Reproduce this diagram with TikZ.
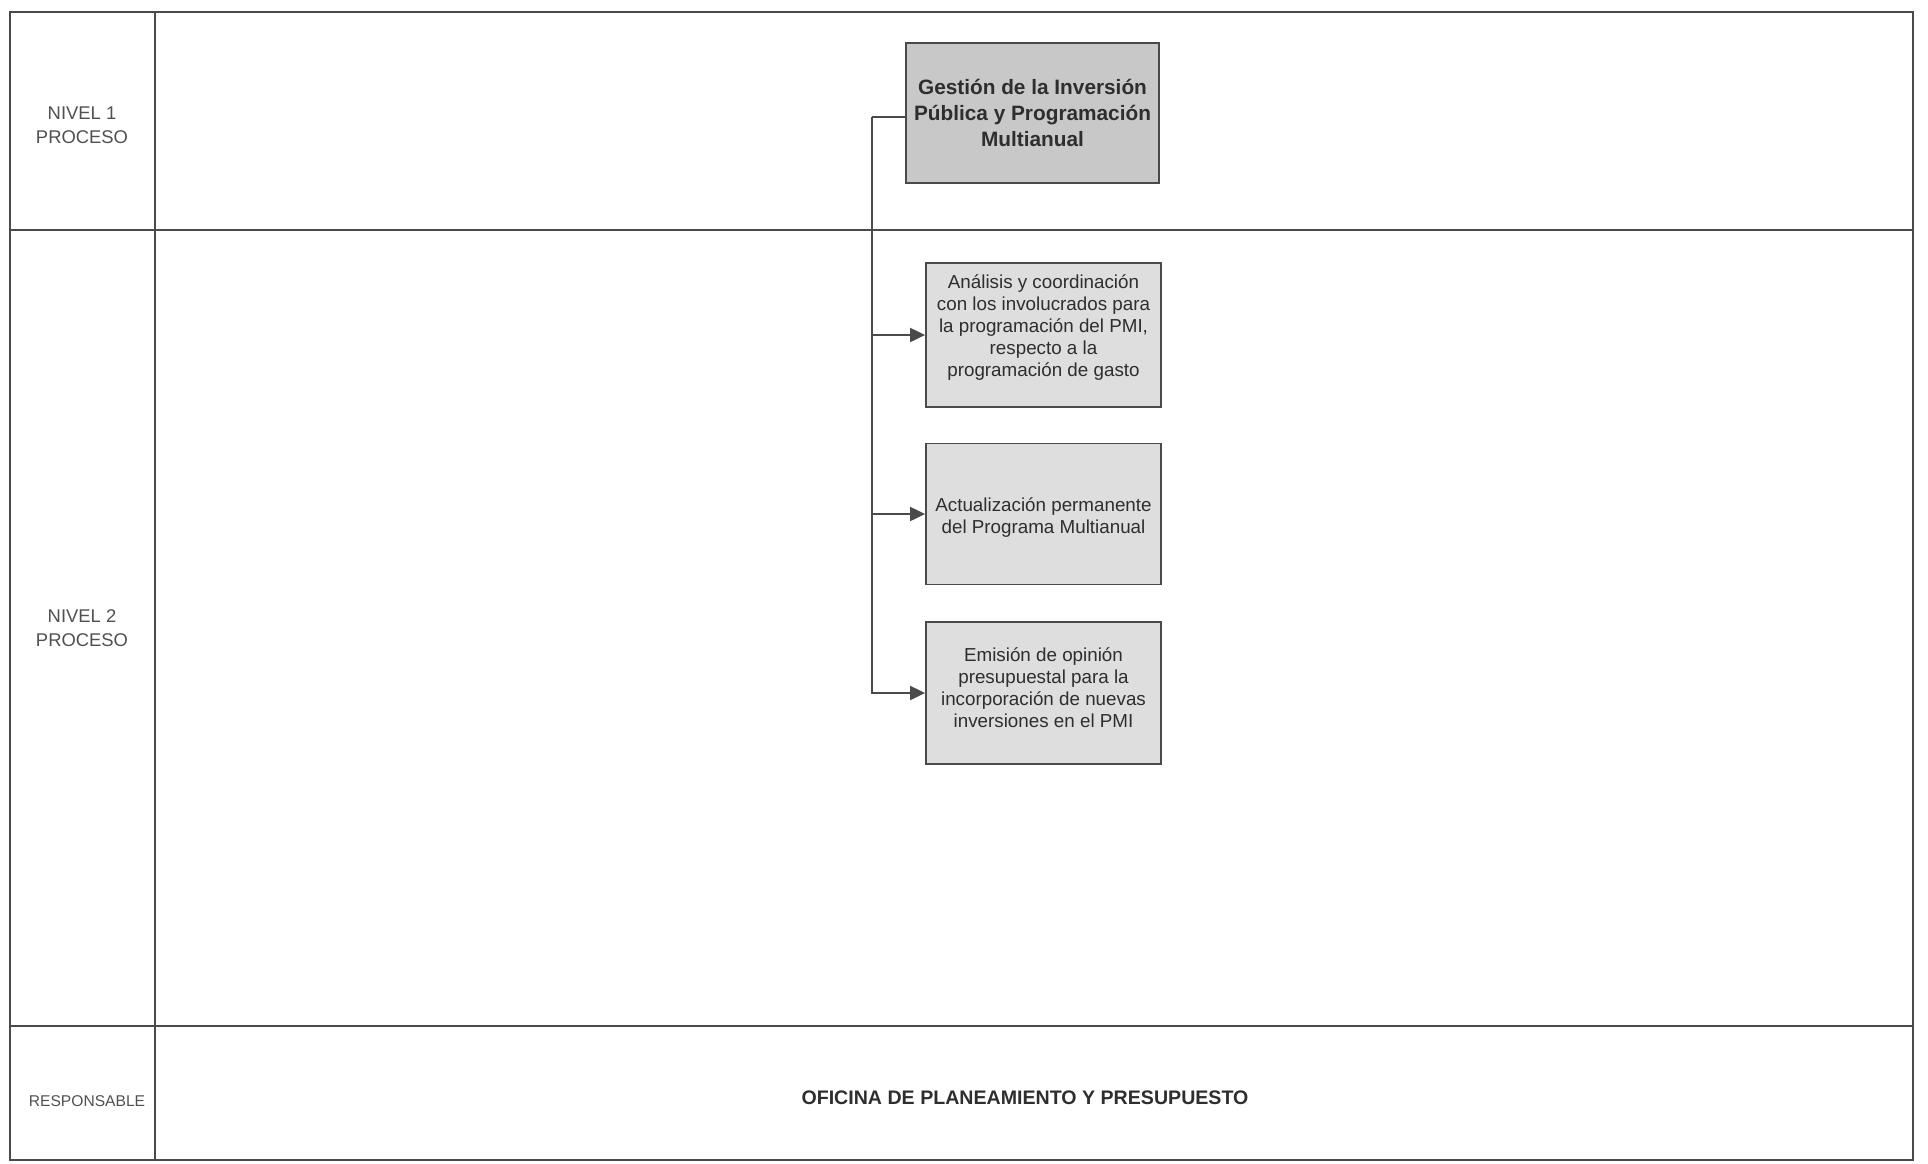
\documentclass[tikz,border=0pt]{standalone}
\usepackage{fontspec}
\setmainfont{Liberation Sans}
\usetikzlibrary{arrows.meta}
\definecolor{frame}{HTML}{4A4A4A}
\definecolor{mainfill}{HTML}{C8C8C8}
\definecolor{subfill}{HTML}{DEDEDE}
\definecolor{txt}{HTML}{2E2E2E}
\definecolor{lbltxt}{HTML}{505050}
\begin{document}
\begin{tikzpicture}[x=0.5pt,y=-0.5pt,
 frameline/.style={draw=frame,line width=1pt},
 mainbox/.style={draw=frame,line width=1pt,fill=mainfill,minimum width=126.5pt,minimum height=70pt,align=center,text=txt,font=\fontsize{10.4}{12.8}\selectfont\bfseries,inner sep=0pt},
 subbox/.style={draw=frame,line width=0.9pt,fill=subfill,minimum width=117.5pt,minimum height=71pt,inner sep=0pt},
 subtext/.style={align=center,text=txt,font=\fontsize{9.4}{11}\selectfont,inner sep=0pt},
 lbl/.style={align=center,text=lbltxt,font=\fontsize{9.2}{12}\selectfont},
 conn/.style={draw=frame,line width=1pt},
 arr/.style={conn,-{Triangle[length=7.5pt,width=7pt]}}
]
\useasboundingbox (0,0) rectangle (1928,1163);
\draw[frameline] (10,12) rectangle (1913,1160);
\draw[frameline] (155,12) -- (155,1160);
\draw[frameline] (10,230) -- (1913,230);
\draw[frameline] (10,1026) -- (1913,1026);

\node[lbl] (n1) at (82,125) {NIVEL 1\\PROCESO};
\node[lbl] (n2) at (82,628) {NIVEL 2\\PROCESO};
\node[lbl,font=\fontsize{7.8}{9}\selectfont] (rs) at (87,1101) {RESPONSABLE};
\node[font=\fontsize{9.8}{12}\selectfont\bfseries,text=txt] (of) at (1025,1098) {OFICINA DE PLANEAMIENTO Y PRESUPUESTO};

\node[mainbox] (m) at (1032.5,113) {Gestión de la Inversión\\Pública y Programación\\Multianual};

\node[subbox,minimum height=72pt] (b1) at (1043.5,335) {};
\node[subtext] (b1t) at (1043.5,328) {Análisis y coordinación\\con los involucrados para\\la programación del PMI,\\respecto a la\\programación de gasto};
\node[subbox,minimum height=70.5pt] (b2) at (1043.5,514) {};
\node[subtext] (b2t) at (1043.5,518) {Actualización permanente\\del Programa Multianual};
\node[subbox] (b3) at (1043.5,693) {};
\node[subtext] (b3t) at (1043.5,688) {Emisión de opinión\\presupuestal para la\\incorporación de nuevas\\inversiones en el PMI};

\coordinate (tr) at (872,117);
\draw[conn] (m.west |- tr) -- (tr);
\draw[arr] (tr) |- (b3.west);
\draw[arr] (tr |- b1.west) -- (b1.west);
\draw[arr] (tr |- b2.west) -- (b2.west);
\end{tikzpicture}
\end{document}
